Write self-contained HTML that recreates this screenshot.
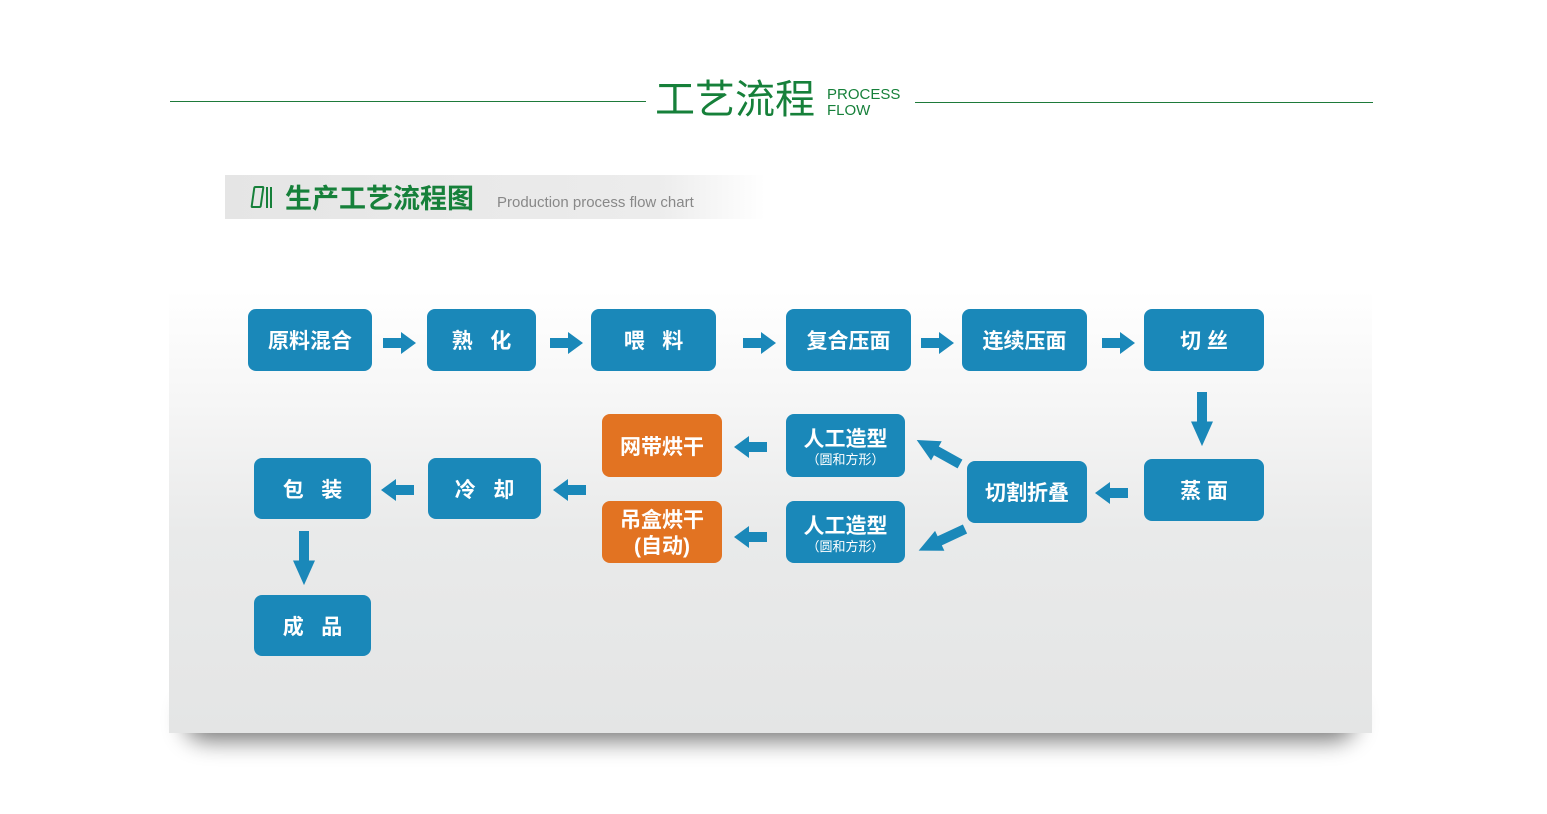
<!DOCTYPE html>
<html><head><meta charset="utf-8"><style>
body{margin:0;width:1547px;height:814px;background:#fff;position:relative;overflow:hidden;font-family:"Liberation Sans","Noto Sans CJK SC",sans-serif}
.a{position:absolute}
.b{position:absolute;background:#1a88b9;border-radius:8px;color:#fff;font-weight:bold;font-size:21px;display:flex;align-items:center;justify-content:center;text-align:center;line-height:1.2;flex-direction:column;padding-top:4px;box-sizing:border-box}
.o{background:#e27322}
.s{font-size:13px;font-weight:normal}
</style></head><body>
<div class="a" style="left:185px;top:700px;width:1170px;height:40px;background:#000;filter:blur(12px);opacity:0.55;border-radius:20px"></div>
<div class="a" style="left:169px;top:290px;width:1203px;height:443px;background:linear-gradient(#fff 0%,#f6f6f6 25%,#e9eaea 55%,#e4e5e5 100%)"></div>
<div class="a" style="left:170px;top:101px;width:476px;height:1px;background:#1e7a3a"></div>
<div class="a" style="left:915px;top:102px;width:458px;height:1px;background:#1e7a3a"></div>
<div class="a" style="left:655px;top:76px;font-size:40px;color:#16803a;line-height:48px">工艺流程</div>
<div class="a" style="left:827px;top:87px;font-size:15px;color:#16803a;line-height:16px">PROCESS<br>FLOW</div>
<div class="a" style="left:225px;top:175px;width:540px;height:44px;background:linear-gradient(90deg,#e5e5e5 0%,#ececec 80%,rgba(255,255,255,0) 100%)"></div>
<div class="a" style="left:252px;top:186px;width:11px;height:22px;border:2px solid #16803a;box-sizing:border-box;transform:skewX(-8deg);border-radius:2px"></div>
<div class="a" style="left:266px;top:187px;width:2px;height:21px;background:#16803a"></div>
<div class="a" style="left:270px;top:187px;width:2px;height:21px;background:#16803a"></div>
<div class="a" style="left:285px;top:182px;font-size:27px;font-weight:bold;color:#16803a;line-height:34px">生产工艺流程图</div>
<div class="a" style="left:497px;top:193px;font-size:15px;color:#888;line-height:20px">Production process flow chart</div>

<div class="b" style="left:248px;top:309px;width:124px;height:62px">原料混合</div>
<div class="b" style="left:427px;top:309px;width:109px;height:62px">熟&nbsp;&nbsp;&nbsp;化</div>
<div class="b" style="left:591px;top:309px;width:125px;height:62px">喂&nbsp;&nbsp;&nbsp;料</div>
<div class="b" style="left:786px;top:309px;width:125px;height:62px">复合压面</div>
<div class="b" style="left:962px;top:309px;width:125px;height:62px">连续压面</div>
<div class="b" style="left:1144px;top:309px;width:120px;height:62px">切 丝</div>
<div class="b o" style="left:602px;top:414px;width:120px;height:63px">网带烘干</div>
<div class="b" style="left:786px;top:414px;width:119px;height:63px">人工造型<span class="s">（圆和方形）</span></div>
<div class="b" style="left:967px;top:461px;width:120px;height:62px">切割折叠</div>
<div class="b" style="left:1144px;top:459px;width:120px;height:62px">蒸 面</div>
<div class="b" style="left:254px;top:458px;width:117px;height:61px">包&nbsp;&nbsp;&nbsp;装</div>
<div class="b" style="left:428px;top:458px;width:113px;height:61px">冷&nbsp;&nbsp;&nbsp;却</div>
<div class="b o" style="left:602px;top:501px;width:120px;height:62px;line-height:1.25">吊盒烘干<br>(自动)</div>
<div class="b" style="left:786px;top:501px;width:119px;height:62px">人工造型<span class="s">（圆和方形）</span></div>
<div class="b" style="left:254px;top:595px;width:117px;height:61px">成&nbsp;&nbsp;&nbsp;品</div>

<svg class="a" style="left:0;top:0" width="1547" height="814">
<defs><path id="r" d="M0,-5 L18,-5 L18,-11 L33,0 L18,11 L18,5 L0,5 Z" fill="#1a88b9"/></defs>
<use href="#r" transform="translate(383,343)"/>
<use href="#r" transform="translate(550,343)"/>
<use href="#r" transform="translate(743,343)"/>
<use href="#r" transform="translate(921,343)"/>
<use href="#r" transform="translate(1102,343)"/>
<use href="#r" transform="translate(1202,392) rotate(90) scale(1.64,1)"/>
<use href="#r" transform="translate(1128,493) rotate(180)"/>
<use href="#r" transform="translate(767,447) rotate(180)"/>
<use href="#r" transform="translate(767,537) rotate(180)"/>
<use href="#r" transform="translate(414,490) rotate(180)"/>
<use href="#r" transform="translate(586,490) rotate(180)"/>
<use href="#r" transform="translate(960,464) rotate(209) scale(1.5,1)"/>
<use href="#r" transform="translate(965,529) rotate(155) scale(1.55,1)"/>
<use href="#r" transform="translate(304,531) rotate(90) scale(1.64,1)"/>
</svg>
</body></html>
